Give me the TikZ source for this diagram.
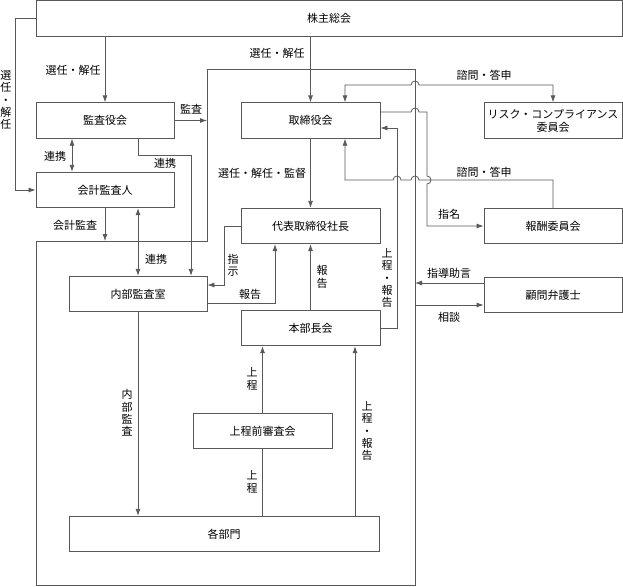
\documentclass[tikz,border=0pt]{standalone}
\usepackage{fontspec}
\setmainfont{Noto Sans CJK JP}
\usetikzlibrary{arrows.meta}
\tikzset{
unit/.style={
	draw=black!65, line width=0.8pt, rectangle, minimum width=138pt,
	minimum height=35.5pt, inner sep=1pt, align=center,
	font=\fontsize{11}{13}\selectfont},
tag/.style={inner sep=0pt, font=\fontsize{11}{13}\selectfont},
vtag/.style={inner sep=0pt, align=center, font=\fontsize{11}{12.3}\selectfont},
flow/.style={draw=black!65, line width=0.8pt, -{Latex[length=7pt,width=5pt]}},
twoway/.style={flow, {Latex[length=7pt,width=5pt]}-{Latex[length=7pt,width=5pt]}},
plain/.style={draw=black!65, line width=0.8pt}
}

\begin{document}
\begin{tikzpicture}[x=1pt, y=-1pt]
	\useasboundingbox (0,0) rectangle (623,586);
	\node[unit, minimum width=586pt] (kabunushi) at (329,18.3) {株主総会};
	\node[unit] (kansayaku) at (105,120.5) {監査役会};
	\node[unit] (kaikei) at (105,190) {会計監査人};
	\node[unit, minimum width=139pt] (torishimari) at (310.5,120.5) {取締役会};
	\node[unit] (risk) at (553,120.5) {リスク・コンプライアンス\\委員会};
	\node[unit, minimum width=139pt] (daihyo) at (310.5,226) {代表取締役社長};
	\node[unit] (hoshu) at (553,226) {報酬委員会};
	\node[unit] (naibu) at (138,294) {内部監査室};
	\node[unit] (komon) at (553,295) {顧問弁護士};
	\node[unit, minimum width=139pt] (honbu) at (310.5,328) {本部長会};
	\node[unit, minimum width=139pt] (jotei) at (262.5,431) {上程前審査会};
	\node[unit, minimum width=310pt] (kakubu) at (224,534) {各部門};

	\coordinate (f1) at (207,69);
	\coordinate (f2) at (415,69);
	\coordinate (f3) at (415,585);
	\coordinate (f4) at (36,585);
	\coordinate (f5) at (36,241);
	\coordinate (f6) at (207,241);
	\draw[plain] (f1) -- (f2) -- (f3) -- (f4) -- (f5) -- (f6) -- cycle;

	\coordinate (senL) at (15,18.3);
	\coordinate (renA) at (72,150);
	\coordinate (renB) at (191,155);
	\coordinate (shimonA) at (345,85);
	\coordinate (shimonB) at (345,180);
	\coordinate (shimei) at (427,112);
	\coordinate (jh) at (397,128);
	\coordinate (shiji) at (224,285);
	\coordinate (hokoku) at (275,303);
	\coordinate (shido) at (415,283);
	\coordinate (sodan) at (415,305);
	\coordinate (jr) at (355,480);

	\draw[flow] (kabunushi.west) -- (senL) |- (kaikei.west);
	\draw[flow] (kabunushi.south -| kansayaku.north) -- (kansayaku.north);
	\draw[flow] (kabunushi.south -| torishimari.north) -- (torishimari.north);
	\draw[flow] (kansayaku.east) -- (kansayaku.east -| f1);
	\draw[twoway] (kansayaku.south -| renA) -- (kaikei.north -| renA);
	\draw[flow] (kansayaku.south -| naibu.north) |- (renB) -- (naibu.north -| renB);
	\draw[flow] (kaikei.south) -- (kaikei.south |- f5);
	\draw[twoway] (kaikei.south -| naibu.north) -- (naibu.north);
	\draw[flow] (torishimari.south) -- (daihyo.north);
	\draw[twoway] (torishimari.north -| shimonA) -- (shimonA) -- (411,85)
		arc[start angle=180, end angle=0, radius=4pt] -- (risk.north |- shimonA) -- (risk.north);
	\draw[flow] (hoshu.north) -- (hoshu.north |- shimonB) -- (419,180)
		arc[start angle=0, end angle=180, radius=4pt] -- (401,180)
		arc[start angle=0, end angle=180, radius=4pt] -- (shimonB) -- (torishimari.south -| shimonB);
	\draw[flow] (torishimari.east |- shimei) -- (411,112)
		arc[start angle=180, end angle=0, radius=4pt] -- (shimei) -- (427,176)
		arc[start angle=90, end angle=-90, radius=4pt] -- (hoshu.west -| shimei) -- (hoshu.west);
	\draw[flow] (honbu.east) -| (jh) -- (torishimari.east |- jh);
	\draw[flow] (daihyo.west) -| (shiji) -- (naibu.east |- shiji);
	\draw[flow] (naibu.east |- hokoku) -- (hokoku) -- (daihyo.south -| hokoku);
	\draw[flow] (honbu.north) -- (daihyo.south);
	\draw[flow] (komon.west |- shido) -- (shido);
	\draw[flow] (sodan) -- (komon.west |- sodan);
	\draw[flow] (naibu.south) -- (naibu.south |- kakubu.north);
	\draw[flow] (jotei.north) -- (jotei.north |- honbu.south);
	\draw[plain] (kakubu.north -| jotei.south) -- (jotei.south);
	\draw[flow] (kakubu.north -| jr) -- (honbu.south -| jr);

	\node[vtag] (tSenL) at (6,100) {選\\任\\・\\解\\任};
	\node[tag] (tSenKansa) at (73,70) {選任・解任};
	\node[tag] (tSenTori) at (277,53) {選任・解任};
	\node[tag] (tKansa) at (191,109) {監査};
	\node[tag] (tRenA) at (55,156) {連携};
	\node[tag] (tRenB) at (165,163) {連携};
	\node[tag] (tKantoku) at (262,173) {選任・解任・監督};
	\node[tag] (tShimonA) at (484,75) {諮問・答申};
	\node[tag] (tShimonB) at (484,172) {諮問・答申};
	\node[tag] (tKaikei) at (75,225) {会計監査};
	\node[tag] (tRenC) at (156,259) {連携};
	\node[vtag] (tShiji) at (233,265) {指\\示};
	\node[tag] (tHokokuA) at (250,294) {報告};
	\node[vtag] (tHokokuB) at (322,277) {報\\告};
	\node[vtag] (tJhA) at (387,278) {上\\程\\・\\報\\告};
	\node[tag] (tShimei) at (449,214) {指名};
	\node[tag] (tShido) at (449,273) {指導助言};
	\node[tag] (tSodan) at (449,317) {相談};
	\node[vtag] (tJoteiA) at (252,379) {上\\程};
	\node[vtag] (tNaibu) at (127,413) {内\\部\\監\\査};
	\node[vtag] (tJoteiB) at (252,482) {上\\程};
	\node[vtag] (tJhB) at (367,431) {上\\程\\・\\報\\告};
\end{tikzpicture}
\end{document}
